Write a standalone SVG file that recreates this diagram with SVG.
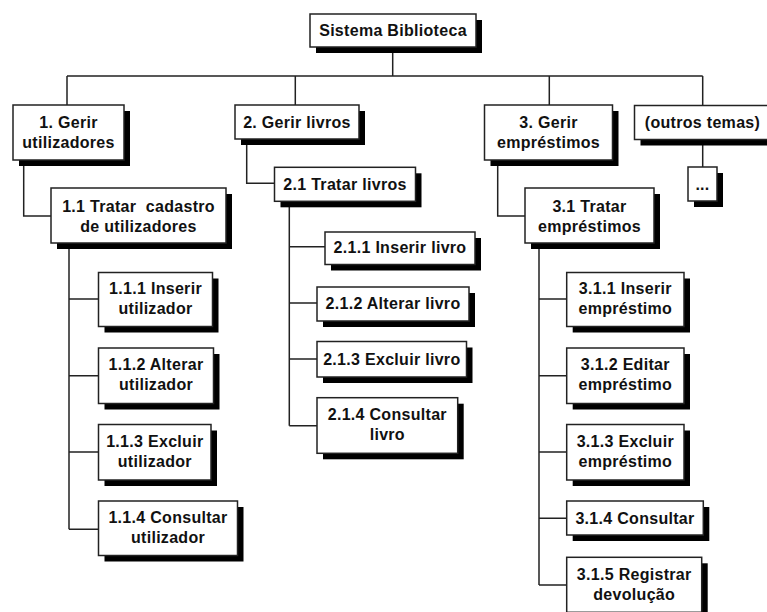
<svg xmlns="http://www.w3.org/2000/svg" width="767" height="612" viewBox="0 0 767 612">
<style>
.sh{fill:#000}
.bx{fill:#fff;stroke:#222;stroke-width:1.5}
.t{font-family:"Liberation Sans",Arial,sans-serif;font-weight:bold;font-size:16px;letter-spacing:0.3px;fill:#111;text-anchor:middle;white-space:pre}
.c{fill:none;stroke:#222;stroke-width:1.5}
</style>
<rect width="767" height="612" fill="#fff"/>
<g id="connectors">
<path class="c" d="M392.7 47V76M67 76H702.7M67 76V105M295.3 76V105M549.3 76V105M702.7 76V106M702.7 139.5V167"/>
<path class="c" d="M23.7 160V216H51M246.7 139V183.3H274.5M497.7 160.5V216H525"/>
<path class="c" d="M69 243V529.3M69 299H98.5M69 375.7H98.5M69 452H98.5M69 529.3H98.5"/>
<path class="c" d="M289.3 201V425.7M289.3 246.7H325M289.3 303H317M289.3 359H317M289.3 425.7H317"/>
<path class="c" d="M539 243V585M539 299H566.7M539 375.7H566.7M539 452H566.7M539 518.3H566.7M539 585H566.7"/>
</g>
<g id="root"><rect class="sh" x="316" y="20" width="166" height="33"/><rect class="bx" x="310" y="14" width="166" height="33"/><text class="t" x="393" y="36">Sistema Biblioteca</text></g>
<g id="n1"><rect class="sh" x="19" y="111" width="111" height="55"/><rect class="bx" x="13" y="105" width="111" height="55"/><text class="t" x="68.5" y="127.5">1. Gerir</text><text class="t" x="68.5" y="147.5">utilizadores</text></g>
<g id="n2"><rect class="sh" x="241" y="111" width="124" height="34"/><rect class="bx" x="235" y="105" width="124" height="34"/><text class="t" x="297" y="127.5">2. Gerir livros</text></g>
<g id="n3"><rect class="sh" x="490.5" y="111" width="128" height="55"/><rect class="bx" x="484.5" y="105" width="128" height="55"/><text class="t" x="548.5" y="127.5">3. Gerir</text><text class="t" x="548.5" y="147.5">empréstimos</text></g>
<g id="n4"><rect class="sh" x="640.5" y="111.5" width="136" height="34"/><rect class="bx" x="634.5" y="105.5" width="136" height="34"/><text class="t" x="702.5" y="128">(outros temas)</text></g>
<g id="n4a"><rect class="sh" x="694" y="173" width="29" height="34"/><rect class="bx" x="688" y="167" width="29" height="34"/><text class="t" x="702.5" y="190">...</text></g>
<g id="n11"><rect class="sh" x="57" y="194" width="175" height="55"/><rect class="bx" x="51" y="188" width="175" height="55"/><text class="t" x="138.5" y="211.5">1.1 Tratar  cadastro</text><text class="t" x="138.5" y="231.5">de utilizadores</text></g>
<g id="n21"><rect class="sh" x="280.5" y="173.3" width="141" height="34"/><rect class="bx" x="274.5" y="167.3" width="141" height="34"/><text class="t" x="345" y="190">2.1 Tratar livros</text></g>
<g id="n31"><rect class="sh" x="531" y="194" width="129" height="55"/><rect class="bx" x="525" y="188" width="129" height="55"/><text class="t" x="589.5" y="211.5">3.1 Tratar</text><text class="t" x="589.5" y="231.5">empréstimos</text></g>
<g id="n111"><rect class="sh" x="104.5" y="278.5" width="114" height="54"/><rect class="bx" x="98.5" y="272.5" width="114" height="54"/><text class="t" x="155.5" y="294">1.1.1 Inserir</text><text class="t" x="155.5" y="314">utilizador</text></g>
<g id="n112"><rect class="sh" x="104.5" y="354" width="115" height="55.5"/><rect class="bx" x="98.5" y="348" width="115" height="55.5"/><text class="t" x="156" y="370">1.1.2 Alterar</text><text class="t" x="156" y="390">utilizador</text></g>
<g id="n113"><rect class="sh" x="104.5" y="430.5" width="112.5" height="55.5"/><rect class="bx" x="98.5" y="424.5" width="112.5" height="55.5"/><text class="t" x="154.8" y="446.5">1.1.3 Excluir</text><text class="t" x="154.8" y="466.5">utilizador</text></g>
<g id="n114"><rect class="sh" x="104.5" y="507" width="139" height="54.5"/><rect class="bx" x="98.5" y="501" width="139" height="54.5"/><text class="t" x="168" y="523">1.1.4 Consultar</text><text class="t" x="168" y="543">utilizador</text></g>
<g id="n211"><rect class="sh" x="331" y="238" width="150" height="32.5"/><rect class="bx" x="325" y="232" width="150" height="32.5"/><text class="t" x="400" y="253">2.1.1 Inserir livro</text></g>
<g id="n212"><rect class="sh" x="323" y="293" width="152" height="34"/><rect class="bx" x="317" y="287" width="152" height="34"/><text class="t" x="393" y="308.5">2.1.2 Alterar livro</text></g>
<g id="n213"><rect class="sh" x="323" y="347.5" width="149.5" height="35.5"/><rect class="bx" x="317" y="341.5" width="149.5" height="35.5"/><text class="t" x="391.8" y="364.5">2.1.3 Excluir livro</text></g>
<g id="n214"><rect class="sh" x="323" y="403.7" width="140.7" height="55.6"/><rect class="bx" x="317" y="397.7" width="140.7" height="55.6"/><text class="t" x="387.3" y="420">2.1.4 Consultar</text><text class="t" x="387.3" y="440">livro</text></g>
<g id="n311"><rect class="sh" x="572.7" y="278.5" width="117.3" height="54"/><rect class="bx" x="566.7" y="272.5" width="117.3" height="54"/><text class="t" x="625.3" y="294">3.1.1 Inserir</text><text class="t" x="625.3" y="314">empréstimo</text></g>
<g id="n312"><rect class="sh" x="572.7" y="354" width="117.3" height="55.5"/><rect class="bx" x="566.7" y="348" width="117.3" height="55.5"/><text class="t" x="625.3" y="370">3.1.2 Editar</text><text class="t" x="625.3" y="390">empréstimo</text></g>
<g id="n313"><rect class="sh" x="572.7" y="430.5" width="117.3" height="55.5"/><rect class="bx" x="566.7" y="424.5" width="117.3" height="55.5"/><text class="t" x="625.3" y="446.5">3.1.3 Excluir</text><text class="t" x="625.3" y="466.5">empréstimo</text></g>
<g id="n314"><rect class="sh" x="572.7" y="507" width="136.6" height="34"/><rect class="bx" x="566.7" y="501" width="136.6" height="34"/><text class="t" x="635" y="523.5">3.1.4 Consultar</text></g>
<g id="n315"><rect class="sh" x="572.7" y="563.3" width="135" height="55"/><rect class="bx" x="566.7" y="557.3" width="135" height="55"/><text class="t" x="634.2" y="579.5">3.1.5 Registrar</text><text class="t" x="634.2" y="599.5">devolução</text></g>
</svg>
